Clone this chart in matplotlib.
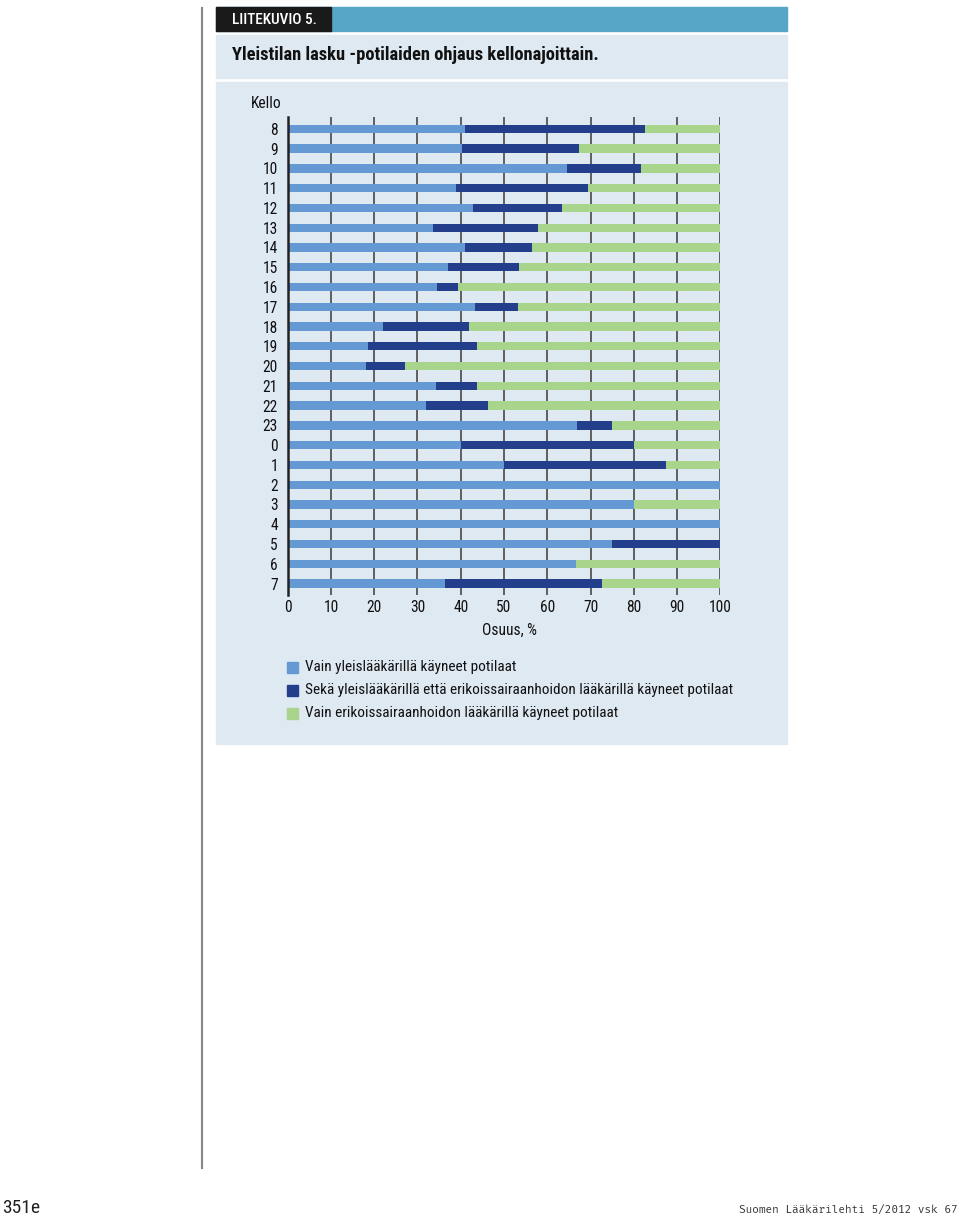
import matplotlib.pyplot as plt
from matplotlib.patches import Rectangle
from matplotlib.lines import Line2D

# kellonajat ja osuudet (%)
hours = ['8', '9', '10', '11', '12', '13', '14', '15', '16', '17', '18', '19',
         '20', '21', '22', '23', '0', '1', '2', '3', '4', '5', '6', '7']
vain_yl = [41.1, 40.4, 64.6, 38.9, 42.8, 33.7, 41.0, 37.0, 34.5, 43.4, 22.0, 18.5,
           18.2, 34.3, 31.9, 66.8, 40.0, 50.0, 100.0, 80.0, 100.0, 75.0, 66.7, 36.4]
seka = [41.6, 27.0, 17.1, 30.5, 20.7, 24.2, 15.4, 16.5, 4.9, 9.8, 20.0, 25.3,
        8.8, 9.4, 14.3, 8.2, 40.0, 37.5, 0.0, 0.0, 0.0, 25.0, 0.0, 36.3]
vain_erik = [100 - a - b for a, b in zip(vain_yl, seka)]

legend_labels = ['Vain yleislääkärillä käyneet potilaat',
                 'Sekä yleislääkärillä että erikoissairaanhoidon lääkärillä käyneet potilaat',
                 'Vain erikoissairaanhoidon lääkärillä käyneet potilaat']
xticks = list(range(0, 101, 10))

c_light = '#6499d3'
c_dark = '#233f8c'
c_green = '#a8d48b'
c_panel = '#dfe9f2'
c_head = '#57a6c7'

plt.rcParams['font.family'] = ['Roboto Condensed', 'DejaVu Sans']

W, H = 960, 1216
fig = plt.figure(figsize=(W / 100, H / 100), dpi=100)


def px(x, y, w, h):
    return [x / W, 1 - (y + h) / H, w / W, h / H]


# tausta-paneelit
bg = fig.add_axes([0, 0, 1, 1])
bg.set_xlim(0, W)
bg.set_ylim(H, 0)
bg.axis('off')
bg.add_patch(Rectangle((216, 7), 571, 24, color=c_head))
bg.add_patch(Rectangle((216, 7), 115, 24, color='#1a1a1a'))
bg.add_patch(Rectangle((216, 35), 571, 43, color=c_panel))
bg.add_patch(Rectangle((216, 82), 571, 662, color=c_panel))
bg.add_line(Line2D([202, 202], [8, 1168], color='#888888', lw=1.5))
bg.text(232, 19.5, 'LIITEKUVIO 5.', color='white', fontsize=11, fontweight='medium',
        va='center', ha='left')
bg.text(232, 55, 'Yleistilan lasku -potilaiden ohjaus kellonajoittain.', color='#111111',
        fontsize=13.3, fontweight='bold', va='center', ha='left')
bg.text(251, 103, 'Kello', fontsize=11.2, va='center', ha='left', color='#111111')
bg.text(509, 630, 'Osuus, %', fontsize=11.2, va='center', ha='center', color='#111111')

# legenda
colors = [c_light, c_dark, c_green]
for i, (lab, col) in enumerate(zip(legend_labels, colors)):
    y = 667 + i * 23
    bg.add_patch(Rectangle((287, y - 5.5), 11, 11, color=col))
    bg.text(305, y, lab, fontsize=11, va='center', ha='left', color='#111111')

# alatunniste
bg.text(2, 1208, '351e', fontsize=14, va='center', ha='left', color='#222222')
bg.text(958, 1210, 'Suomen Lääkärilehti 5/2012 vsk 67', fontsize=8, va='center',
        ha='right', color='#333333', family='Fira Mono')

# kaavio
ax = fig.add_axes(px(287.7, 117, 432.6, 478))
ax.set_facecolor('none')
ypos = list(range(len(hours)))
for x in xticks[1:]:
    ax.axvline(x, color='#3a3a3a', lw=1.1, zorder=1)
ax.barh(ypos, vain_yl, height=0.42, color=c_light, zorder=2)
ax.barh(ypos, seka, left=vain_yl, height=0.42, color=c_dark, zorder=2)
left2 = [a + b for a, b in zip(vain_yl, seka)]
ax.barh(ypos, vain_erik, left=left2, height=0.42, color=c_green, zorder=2)

ax.set_xlim(0, 100)
ax.set_ylim(23.58, -0.6)
ax.set_yticks(ypos)
ax.set_yticklabels(hours)
ax.set_xticks(xticks)
ax.set_xticklabels([str(t) for t in xticks])
for s in ['top', 'right', 'bottom']:
    ax.spines[s].set_visible(False)
ax.spines['left'].set_linewidth(1.8)
ax.spines['left'].set_color('#222222')
ax.tick_params(axis='y', length=0, pad=7, labelsize=11.2, labelcolor='#111111')
ax.tick_params(axis='x', length=0, pad=3.5, labelsize=11.2, labelcolor='#111111')

fig.savefig('out.png', dpi=100)
